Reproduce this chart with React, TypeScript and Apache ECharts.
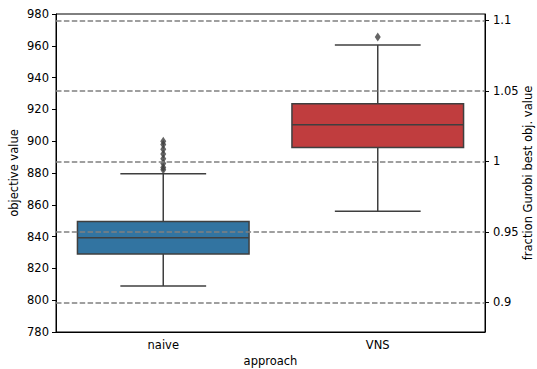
import React, { useEffect, useRef } from "react";
import * as echarts from "echarts";

const categories = ["naive", "VNS"];
// [min whisker, Q1, median, Q3, max whisker]
const boxStats = [
  [809, 829, 839.3, 849.5, 879.5],
  [856, 896, 910.3, 923.5, 960.5],
];
const outliers = [
  [0, 882],
  [0, 883.5],
  [0, 886],
  [0, 889],
  [0, 892],
  [0, 895],
  [0, 898],
  [0, 900],
  [1, 965.5],
];
const gurobiBest = 887.3;
const fractionTicks = [0.9, 0.95, 1, 1.05, 1.1];
const leftMin = 780;
const leftMax = 980;
const boxColors = ["#3274a1", "#c03d3e"];

const FONT = "DejaVu Sans";
const FS = 11.5;

export default function App() {
  const ref = useRef<HTMLDivElement>(null);
  useEffect(() => {
    if (!ref.current) return;
    const chart = echarts.init(ref.current, null, { renderer: "svg" });
    const edge = "#3f3f3f";
    chart.setOption({
      animation: false,
      grid: {
        left: 56,
        right: 52,
        top: 14,
        bottom: 37,
        containLabel: false,
        outerBoundsMode: "none",
        show: true,
        borderColor: "#000",
        borderWidth: 1,
        backgroundColor: "transparent",
      },
      xAxis: {
        type: "category",
        data: categories,
        boundaryGap: true,
        name: "approach",
        nameLocation: "middle",
        nameGap: 23,
        nameMoveOverlap: false,
        nameTextStyle: { fontFamily: FONT, fontSize: FS, color: "#000" },
        axisLine: { lineStyle: { color: "#000", width: 1 } },
        axisTick: { alignWithLabel: true, length: 4, lineStyle: { color: "#000" } },
        axisLabel: { fontFamily: FONT, fontSize: FS, color: "#000", margin: 7 },
        splitLine: { show: false },
      },
      yAxis: [
        {
          type: "value",
          min: leftMin,
          max: leftMax,
          interval: 20,
          name: "objective value",
          nameLocation: "middle",
          nameGap: 36,
          nameMoveOverlap: false,
          nameTextStyle: { fontFamily: FONT, fontSize: FS, color: "#000" },
          axisLine: { show: true, lineStyle: { color: "#000", width: 1 } },
          axisTick: { show: true, length: 4, lineStyle: { color: "#000" } },
          axisLabel: { fontFamily: FONT, fontSize: FS, color: "#000", margin: 7 },
          splitLine: { show: false },
        },
        {
          type: "value",
          position: "right",
          min: leftMin / gurobiBest,
          max: leftMax / gurobiBest,
          name: "fraction Gurobi best obj. value",
          nameLocation: "middle",
          nameGap: 37,
          nameRotate: 90,
          nameMoveOverlap: false,
          nameTextStyle: { fontFamily: FONT, fontSize: FS, color: "#000" },
          axisLine: { show: true, lineStyle: { color: "#000", width: 1 } },
          axisTick: {
            show: true,
            length: 4,
            lineStyle: { color: "#000" },
            customValues: fractionTicks,
          },
          axisLabel: {
            fontFamily: FONT,
            fontSize: FS,
            color: "#000",
            margin: 8,
            customValues: fractionTicks,
            formatter: (v: number) => String(parseFloat(v.toFixed(2))),
          },
          splitLine: { show: false },
        },
      ],
      series: [
        {
          type: "custom",
          xAxisIndex: 0,
          yAxisIndex: 0,
          z: 2,
          data: boxStats.map((s, i) => [i, ...s]),
          renderItem: (params: any, api: any) => {
            const ci = api.value(0);
            const lo = api.coord([ci, api.value(1)]);
            const q1 = api.coord([ci, api.value(2)]);
            const med = api.coord([ci, api.value(3)]);
            const q3 = api.coord([ci, api.value(4)]);
            const hi = api.coord([ci, api.value(5)]);
            const band = api.size([1, 0])[0];
            const cx = lo[0];
            const half = (band * 0.8) / 2;
            const cap = half / 2;
            const ls = { stroke: edge, lineWidth: 1.5 };
            return {
              type: "group",
              children: [
                { type: "line", shape: { x1: cx, y1: lo[1], x2: cx, y2: q1[1] }, style: ls },
                { type: "line", shape: { x1: cx, y1: q3[1], x2: cx, y2: hi[1] }, style: ls },
                { type: "line", shape: { x1: cx - cap, y1: lo[1], x2: cx + cap, y2: lo[1] }, style: ls },
                { type: "line", shape: { x1: cx - cap, y1: hi[1], x2: cx + cap, y2: hi[1] }, style: ls },
                {
                  type: "rect",
                  shape: { x: cx - half, y: q3[1], width: half * 2, height: q1[1] - q3[1] },
                  style: { fill: boxColors[ci], stroke: edge, lineWidth: 1.5 },
                },
                { type: "line", shape: { x1: cx - half, y1: med[1], x2: cx + half, y2: med[1] }, style: ls },
              ],
            };
          },
        },
        {
          type: "scatter",
          xAxisIndex: 0,
          yAxisIndex: 0,
          z: 3,
          symbol: "diamond",
          symbolSize: [6, 9],
          itemStyle: { color: edge },
          data: outliers,
        },
        {
          type: "line",
          xAxisIndex: 0,
          yAxisIndex: 1,
          z: 5,
          data: [],
          markLine: {
            silent: true,
            symbol: "none",
            label: { show: false },
            lineStyle: { color: "#808080", width: 1.5, type: [5.5, 2.4] },
            data: fractionTicks.map((v) => ({ yAxis: v })),
          },
        },
      ],
    });
    return () => chart.dispose();
  }, []);
  return (
    <div
      ref={ref}
      style={{ position: "fixed", left: 0, top: 0, width: 537, height: 369, background: "#fff" }}
    />
  );
}
